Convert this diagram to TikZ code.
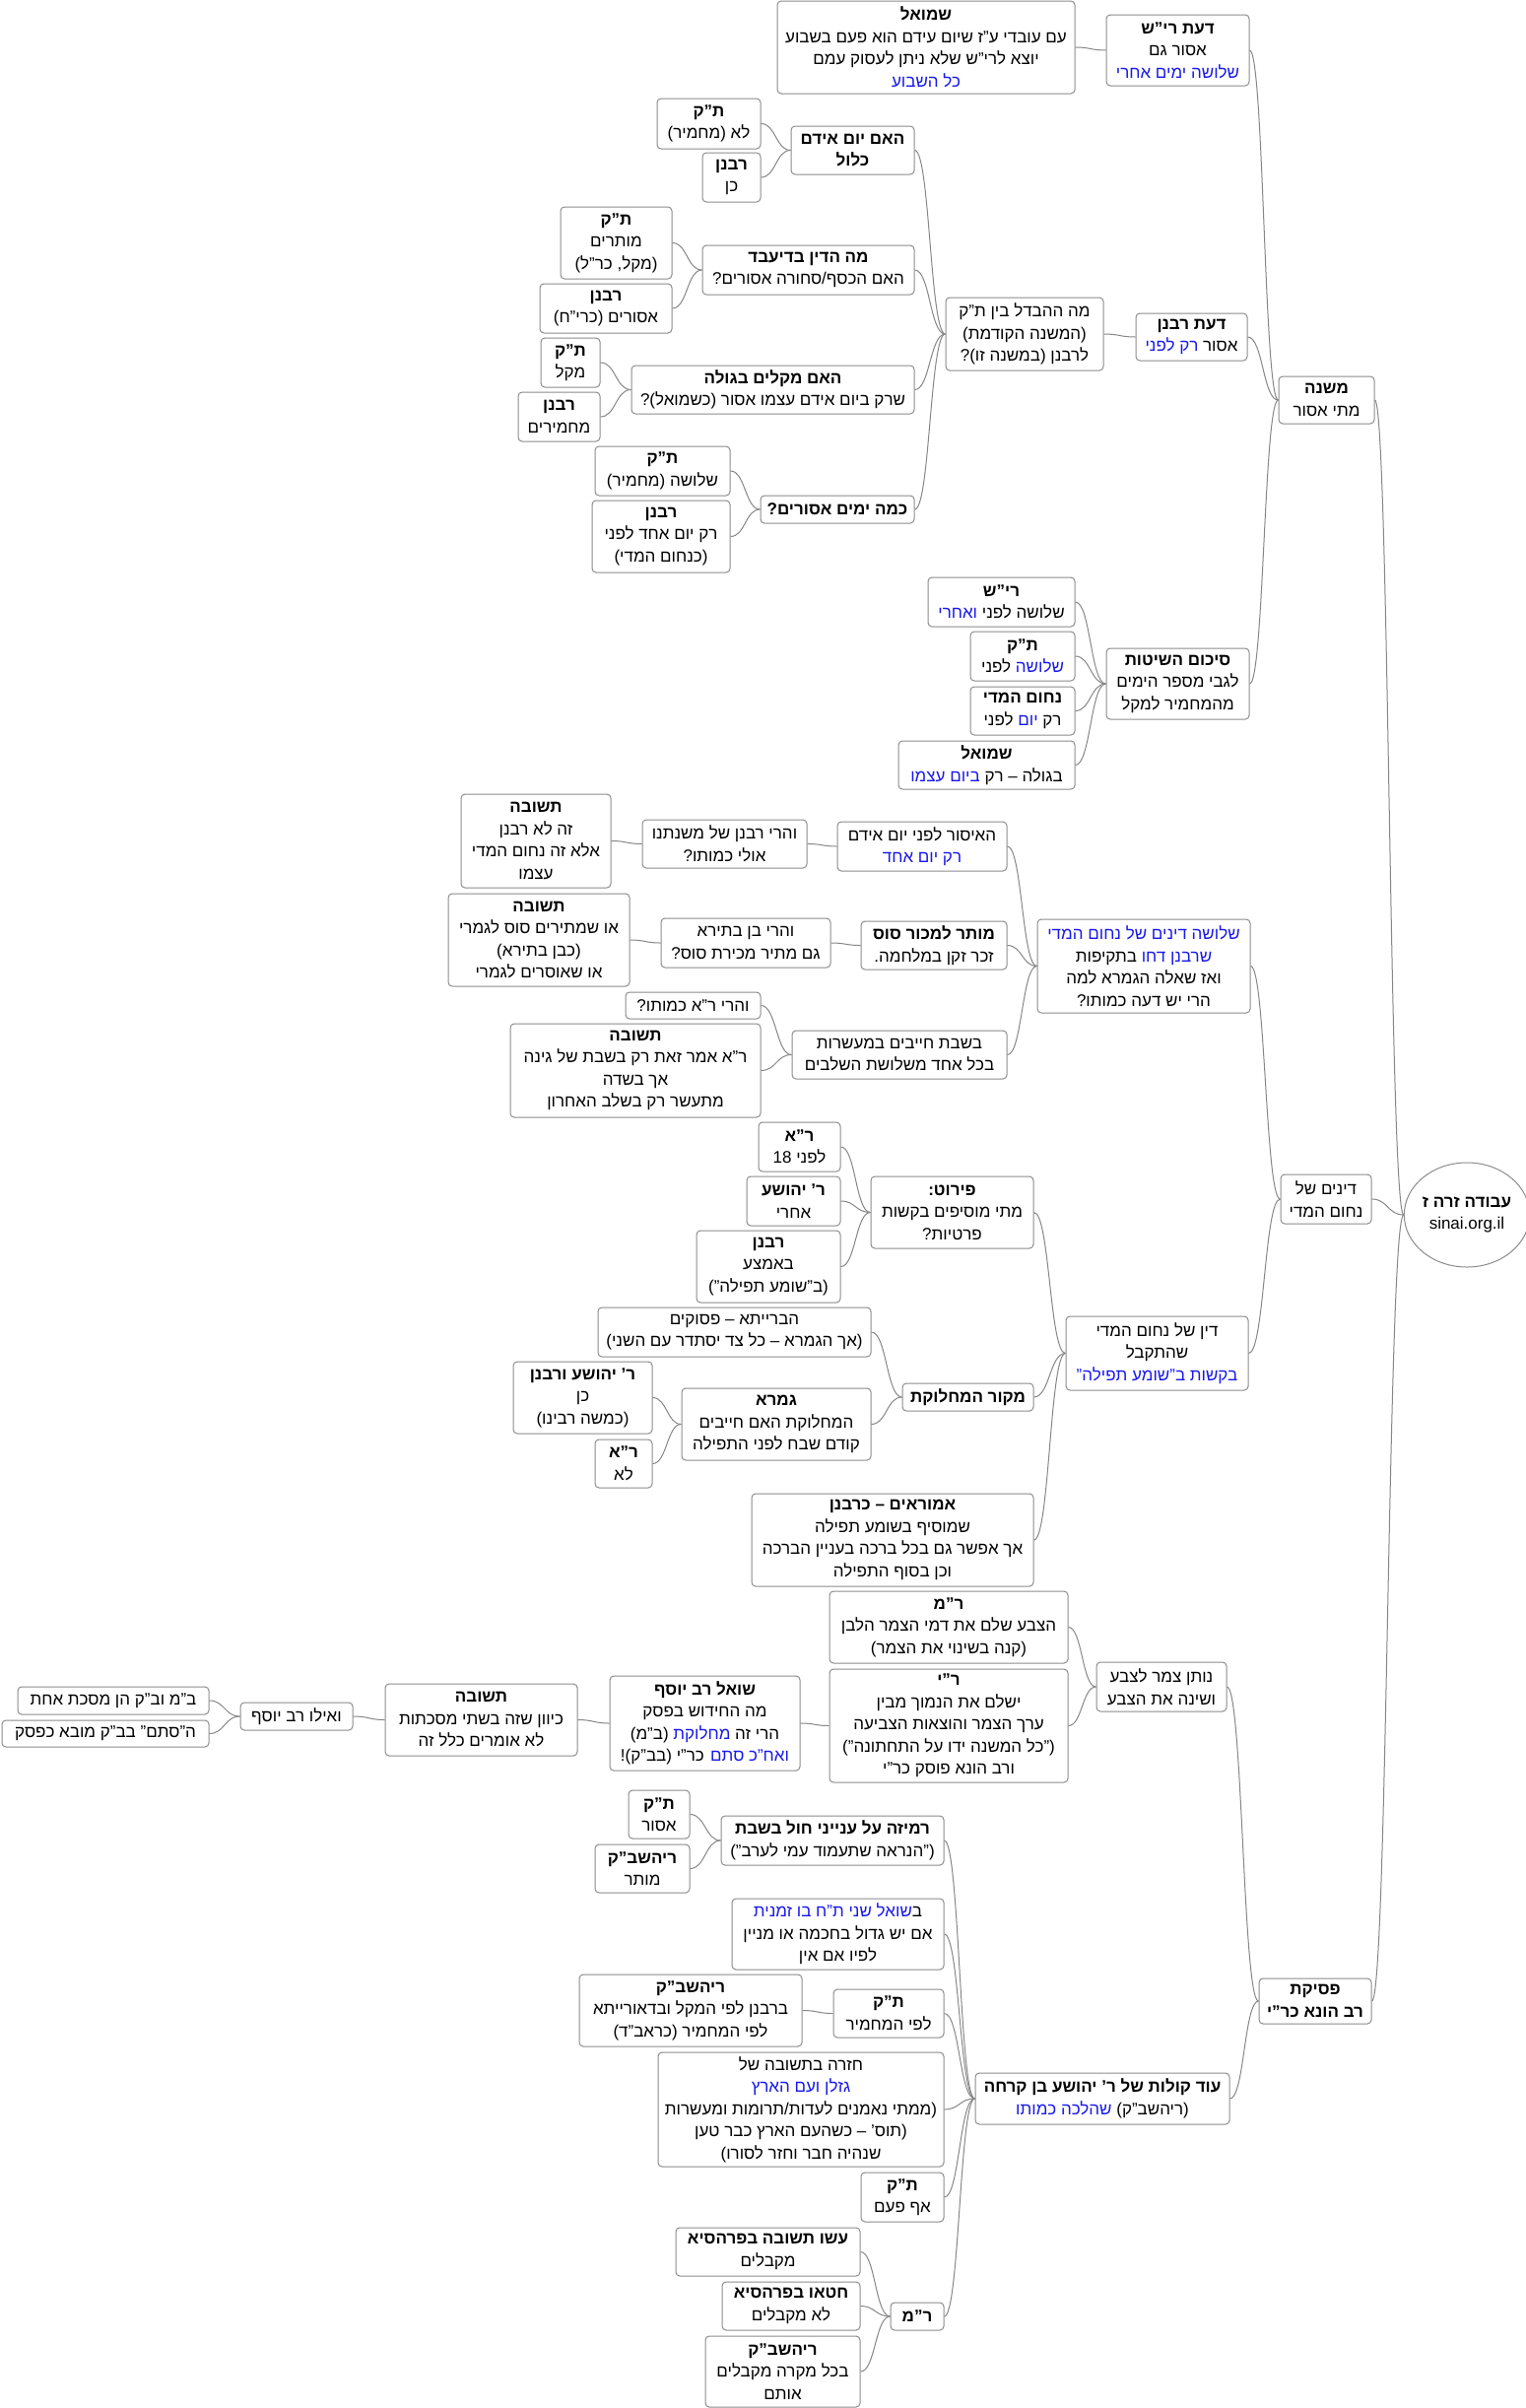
\documentclass[tikz,border=0pt]{standalone}
\usepackage{fontspec}
\setmainfont{Liberation Sans}[Script=Hebrew]
\usetikzlibrary{calc,shapes.geometric}
\TeXXeTstate=1
\definecolor{hblue}{RGB}{25,25,235}
\definecolor{bordergray}{RGB}{140,140,140}
\definecolor{linegray}{RGB}{135,135,135}
% one right-to-left run in black
\newcommand\RL[1]{\beginR#1\endR}
% one right-to-left run in blue (colour set outside the reversed segment)
\newcommand\BL[1]{{\color{hblue}\beginR#1\endR}}
\tikzset{
  box/.style={draw=bordergray, line width=1pt, rounded corners=4pt, fill=white,
    align=center, inner sep=1pt, text=black, font=\fontsize{17}{22.5}\selectfont},
  conn/.style={draw=linegray, line width=1pt}
}
\newcommand\bx[6]{\node[box, minimum width={#4pt-#2pt}, minimum height={#5pt-#3pt}] (#1) at ({(#2+#4)/2},{(#3+#5)/2}) {#6};}
\newcommand\lk[2]{\path let \p1=(#1.west), \p2=(#2.east) in coordinate (lkmid) at ({0.5*\x1+0.5*\x2},{0pt});
  \draw[conn] (#1.west) .. controls (lkmid |- #1.west) and (lkmid |- #2.east) .. (#2.east);}
\begin{document}
\begin{tikzpicture}[x=1pt,y=-1pt]
\fill[white] (0,0) rectangle (1549,2444);
\useasboundingbox (0,0) rectangle (1549,2444);

% root
\node[draw=bordergray, line width=1pt, ellipse, fill=white, minimum width=116pt, minimum height=106pt, inner sep=0pt, align=center, font=\fontsize{17}{22.5}\selectfont] (root) at (1489,1233) {\RL{\textbf{עבודה זרה ז}}\\sinai.org.il};

% ---- top branch
\bx{mishna}{1298}{382}{1395}{430}{\RL{\textbf{משנה}}\\\RL{מתי אסור}}
\bx{rish}{1123}{15}{1268}{87}{\RL{\textbf{דעת רי"ש}}\\\RL{אסור גם}\\\BL{שלושה ימים אחרי}}
\bx{shmuel1}{789}{1}{1091}{95}{\RL{\textbf{שמואל}}\\\RL{עם עובדי ע"ז שיום עידם הוא פעם בשבוע}\\\RL{יוצא לרי"ש שלא ניתן לעסוק עמם}\\\BL{כל השבוע}}
\bx{rabanan}{1153}{318}{1266}{366}{\RL{\textbf{דעת רבנן}}\\\BL{רק לפני} \RL{אסור}}
\bx{diff}{960}{302}{1120}{376}{\RL{מה ההבדל בין ת"ק}\\\RL{(המשנה הקודמת)}\\\RL{לרבנן (במשנה זו)?}}
\bx{q1}{803}{128}{928}{177}{\RL{\textbf{האם יום אידם}}\\\RL{\textbf{כלול}}}
\bx{q1a}{667}{100}{772}{151}{\RL{\textbf{ת"ק}}\\\RL{לא (מחמיר)}}
\bx{q1b}{713}{155}{772}{205}{\RL{\textbf{רבנן}}\\\RL{כן}}
\bx{q2}{713}{249}{928}{299}{\RL{\textbf{מה הדין בדיעבד}}\\\RL{האם הכסף/סחורה אסורים?}}
\bx{q2a}{569}{210}{682}{283}{\RL{\textbf{ת"ק}}\\\RL{מותרים}\\\RL{(מקל, כר"ל)}}
\bx{q2b}{548}{288}{682}{338}{\RL{\textbf{רבנן}}\\\RL{אסורים (כרי"ח)}}
\bx{q3}{641}{371}{928}{420}{\RL{\textbf{האם מקלים בגולה}}\\\RL{שרק ביום אידם עצמו אסור (כשמואל)?}}
\bx{q3a}{549}{343}{609}{393}{\RL{\textbf{ת"ק}}\\\RL{מקל}}
\bx{q3b}{526}{398}{609}{448}{\RL{\textbf{רבנן}}\\\RL{מחמירים}}
\bx{q4}{772}{503}{928}{531}{\RL{\textbf{כמה ימים אסורים?}}}
\bx{q4a}{604}{453}{741}{503}{\RL{\textbf{ת"ק}}\\\RL{שלושה (מחמיר)}}
\bx{q4b}{601}{508}{741}{581}{\RL{\textbf{רבנן}}\\\RL{רק יום אחד לפני}\\\RL{(כנחום המדי)}}
\bx{sikum}{1123}{658}{1268}{730}{\RL{\textbf{סיכום השיטות}}\\\RL{לגבי מספר הימים}\\\RL{מהמחמיר למקל}}
\bx{s1}{942}{586}{1091}{636}{\RL{\textbf{רי"ש}}\\\BL{ואחרי} \RL{שלושה לפני}}
\bx{s2}{985}{641}{1091}{691}{\RL{\textbf{ת"ק}}\\\RL{לפני} \BL{שלושה}}
\bx{s3}{985}{697}{1091}{746}{\RL{\textbf{נחום המדי}}\\\RL{לפני} \BL{יום} \RL{רק}}
\bx{s4}{912}{752}{1091}{801}{\RL{\textbf{שמואל}}\\\BL{ביום עצמו} \RL{בגולה – רק}}

% ---- middle branch
\bx{dinim}{1300}{1192}{1392}{1242}{\RL{דינים של}\\\RL{נחום המדי}}
\bx{three}{1053}{933}{1269}{1028}{\BL{שלושה דינים של נחום המדי}\\\RL{בתקיפות} \BL{שרבנן דחו}\\\RL{ואז שאלה הגמרא למה}\\\RL{הרי יש דעה כמותו?}}
\bx{t1}{850}{834}{1022}{884}{\RL{האיסור לפני יום אידם}\\\BL{רק יום אחד}}
\bx{t1a}{652}{832}{819}{881}{\RL{והרי רבנן של משנתנו}\\\RL{אולי כמותו?}}
\bx{t1b}{468}{806}{620}{901}{\RL{\textbf{תשובה}}\\\RL{זה לא רבנן}\\\RL{אלא זה נחום המדי}\\\RL{עצמו}}
\bx{t2}{874}{935}{1022}{984}{\RL{\textbf{מותר למכור סוס}}\\\RL{זכר זקן במלחמה.}}
\bx{t2a}{671}{932}{843}{982}{\RL{והרי בן בתירא}\\\RL{גם מתיר מכירת סוס?}}
\bx{t2b}{455}{907}{639}{1001}{\RL{\textbf{תשובה}}\\\RL{או שמתירים סוס לגמרי}\\\RL{(כבן בתירא)}\\\RL{או שאוסרים לגמרי}}
\bx{t3}{804}{1046}{1022}{1095}{\RL{בשבת חייבים במעשרות}\\\RL{בכל אחד משלושת השלבים}}
\bx{t3a}{635}{1007}{772}{1034}{\RL{והרי ר"א כמותו?}}
\bx{t3b}{518}{1039}{772}{1134}{\RL{\textbf{תשובה}}\\\RL{ר"א אמר זאת רק בשבת של גינה}\\\RL{אך בשדה}\\\RL{מתעשר רק בשלב האחרון}}
\bx{accepted}{1082}{1336}{1267}{1411}{\RL{דין של נחום המדי}\\\RL{שהתקבל}\\\BL{בקשות ב"שומע תפילה"}}
\bx{prt}{884}{1194}{1049}{1267}{\RL{\textbf{פירוט:}}\\\RL{מתי מוסיפים בקשות}\\\RL{פרטיות?}}
\bx{pa}{770}{1139}{853}{1189}{\RL{\textbf{ר"א}}\\\RL{לפני 18}}
\bx{pb}{758}{1194}{853}{1244}{\RL{\textbf{ר' יהושע}}\\\RL{אחרי}}
\bx{pc}{707}{1249}{853}{1322}{\RL{\textbf{רבנן}}\\\RL{באמצע}\\\RL{(ב"שומע תפילה")}}
\bx{mkr}{916}{1404}{1049}{1432}{\RL{\textbf{מקור המחלוקת}}}
\bx{ma}{607}{1327}{884}{1377}{\RL{הברייתא – פסוקים}\\\RL{(אך הגמרא – כל צד יסתדר עם השני)}}
\bx{mb}{692}{1409}{884}{1482}{\RL{\textbf{גמרא}}\\\RL{המחלוקת האם חייבים}\\\RL{קודם שבח לפני התפילה}}
\bx{mb1}{521}{1382}{662}{1455}{\RL{\textbf{ר' יהושע ורבנן}}\\\RL{כן}\\\RL{(כמשה רבינו)}}
\bx{mb2}{604}{1461}{662}{1510}{\RL{\textbf{ר"א}}\\\RL{לא}}
\bx{am}{763}{1516}{1049}{1610}{\RL{\textbf{אמוראים – כרבנן}}\\\RL{שמוסיף בשומע תפילה}\\\RL{אך אפשר גם בכל ברכה בעניין הברכה}\\\RL{וכן בסוף התפילה}}

% ---- bottom branch
\bx{psika}{1278}{2008}{1392}{2054}{\RL{\textbf{פסיקת}}\\\RL{\textbf{רב הונא כר"י}}}
\bx{noten}{1113}{1687}{1245}{1737}{\RL{נותן צמר לצבע}\\\RL{ושינה את הצבע}}
\bx{rm}{842}{1615}{1084}{1688}{\RL{\textbf{ר"מ}}\\\RL{הצבע שלם את דמי הצמר הלבן}\\\RL{(קנה בשינוי את הצמר)}}
\bx{ry}{842}{1694}{1084}{1809}{\RL{\textbf{ר"י}}\\\RL{ישלם את הנמוך מבין}\\\RL{ערך הצמר והוצאות הצביעה}\\\RL{("כל המשנה ידו על התחתונה")}\\\RL{ורב הונא פוסק כר"י}}
\bx{yosef}{619}{1701}{812}{1797}{\RL{\textbf{שואל רב יוסף}}\\\RL{מה החידוש בפסק}\\\RL{(ב"מ)} \BL{מחלוקת} \RL{הרי זה}\\\RL{כר"י (בב"ק)!} \BL{ואח"כ סתם}}
\bx{tsh}{391}{1709}{586}{1782}{\RL{\textbf{תשובה}}\\\RL{כיוון שזה בשתי מסכתות}\\\RL{לא אומרים כלל זה}}
\bx{eilu}{244}{1728}{358}{1756}{\RL{ואילו רב יוסף}}
\bx{la}{18}{1712}{212}{1740}{\RL{ב"מ וב"ק הן מסכת אחת}}
\bx{lb}{2}{1746}{212}{1773}{\RL{ה"סתם" בב"ק מובא כפסק}}
\bx{od}{990}{2104}{1248}{2156}{\RL{\textbf{עוד קולות של ר' יהושע בן קרחה}}\\\BL{שהלכה כמותו} \RL{(ריהשב"ק)}}
\bx{r1}{732}{1843}{958}{1893}{\RL{\textbf{רמיזה על ענייני חול בשבת}}\\\RL{("הנראה שתעמוד עמי לערב")}}
\bx{r1a}{638}{1817}{700}{1866}{\RL{\textbf{ת"ק}}\\\RL{אסור}}
\bx{r1b}{604}{1872}{700}{1921}{\RL{\textbf{ריהשב"ק}}\\\RL{מותר}}
\bx{r2}{743}{1927}{958}{1999}{\BL{שואל שני ת"ח בו זמנית}\RL{ב}\\\RL{אם יש גדול בחכמה או מניין}\\\RL{לפיו אם אין}}
\bx{r3}{846}{2019}{958}{2068}{\RL{\textbf{ת"ק}}\\\RL{לפי המחמיר}}
\bx{r3a}{588}{2004}{814}{2077}{\RL{\textbf{ריהשב"ק}}\\\RL{ברבנן לפי המקל ובדאורייתא}\\\RL{לפי המחמיר (כראב"ד)}}
\bx{r4}{668}{2083}{958}{2199}{\RL{חזרה בתשובה של}\\\BL{גזלן ועם הארץ}\\\RL{(ממתי נאמנים לעדות/תרומות ומעשרות}\\\RL{(תוס' – כשהעם הארץ כבר טען}\\\RL{שנהיה חבר וחזר לסורו)}}
\bx{r5}{874}{2205}{958}{2255}{\RL{\textbf{ת"ק}}\\\RL{אף פעם}}
\bx{r6}{904}{2337}{958}{2365}{\RL{\textbf{ר"מ}}}
\bx{r6a}{686}{2261}{873}{2310}{\RL{\textbf{עשו תשובה בפרהסיא}}\\\RL{מקבלים}}
\bx{r6b}{733}{2316}{873}{2365}{\RL{\textbf{חטאו בפרהסיא}}\\\RL{לא מקבלים}}
\bx{r6c}{716}{2371}{873}{2443}{\RL{\textbf{ריהשב"ק}}\\\RL{בכל מקרה מקבלים}\\\RL{אותם}}

% ---- connectors
\lk{root}{mishna}\lk{root}{dinim}\lk{root}{psika}
\lk{mishna}{rish}\lk{mishna}{rabanan}\lk{mishna}{sikum}
\lk{rish}{shmuel1}
\lk{rabanan}{diff}
\lk{diff}{q1}\lk{diff}{q2}\lk{diff}{q3}\lk{diff}{q4}
\lk{q1}{q1a}\lk{q1}{q1b}\lk{q2}{q2a}\lk{q2}{q2b}
\lk{q3}{q3a}\lk{q3}{q3b}\lk{q4}{q4a}\lk{q4}{q4b}
\lk{sikum}{s1}\lk{sikum}{s2}\lk{sikum}{s3}\lk{sikum}{s4}
\lk{dinim}{three}\lk{dinim}{accepted}
\lk{three}{t1}\lk{three}{t2}\lk{three}{t3}
\lk{t1}{t1a}\lk{t1a}{t1b}
\lk{t2}{t2a}\lk{t2a}{t2b}
\lk{t3}{t3a}\lk{t3}{t3b}
\lk{accepted}{prt}\lk{accepted}{mkr}\lk{accepted}{am}
\lk{prt}{pa}\lk{prt}{pb}\lk{prt}{pc}
\lk{mkr}{ma}\lk{mkr}{mb}
\lk{mb}{mb1}\lk{mb}{mb2}
\lk{psika}{noten}\lk{psika}{od}
\lk{noten}{rm}\lk{noten}{ry}
\lk{ry}{yosef}\lk{yosef}{tsh}\lk{tsh}{eilu}
\lk{eilu}{la}\lk{eilu}{lb}
\lk{od}{r1}\lk{od}{r2}\lk{od}{r3}\lk{od}{r4}\lk{od}{r5}\lk{od}{r6}
\lk{r1}{r1a}\lk{r1}{r1b}
\lk{r3}{r3a}
\lk{r6}{r6a}\lk{r6}{r6b}\lk{r6}{r6c}
\end{tikzpicture}
\end{document}
